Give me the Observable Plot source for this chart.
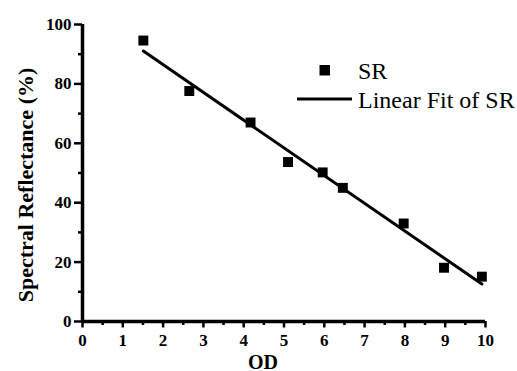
<!DOCTYPE html>
<html>
<head>
<meta charset="utf-8">
<script src="https://cdn.jsdelivr.net/npm/d3@7"></script>
<script src="https://cdn.jsdelivr.net/npm/@observablehq/plot@0.6"></script>
<style>
  html, body { margin: 0; padding: 0; background: #fff; }
  #chart { position: relative; width: 517px; height: 371px; overflow: hidden; }
</style>
</head>
<body>
<div id="chart"></div>
<script>
// Data
const od = [1.51, 2.65, 4.17, 5.10, 5.96, 6.46, 7.97, 8.97, 9.91];
const sr = [94.6, 77.6, 67.0, 53.7, 50.2, 45.0, 33.0, 18.1, 15.1];
const xTicks = [0, 1, 2, 3, 4, 5, 6, 7, 8, 9, 10];
const xMinor = [0.5, 1.5, 2.5, 3.5, 4.5, 5.5, 6.5, 7.5, 8.5, 9.5];
const yTicks = [0, 20, 40, 60, 80, 100];
const yMinor = [10, 30, 50, 70, 90];
const xTitle = "OD";
const yTitle = "Spectral Reflectance (%)";
const legendLabels = ["SR", "Linear Fit of SR"];

const data = od.map((x, i) => ({x, y: sr[i]}));
const serif = "Liberation Serif, Times New Roman, serif";

const plot = Plot.plot({
  width: 517,
  height: 371,
  marginLeft: 82,
  marginRight: 32,
  marginTop: 24,
  marginBottom: 50,
  style: {fontFamily: serif, background: "white", color: "black"},
  x: {domain: [0, 10]},
  y: {domain: [0, 100]},
  marks: [
    Plot.axisX({ticks: xMinor, tickSize: 4, strokeWidth: 2.5, tickFormat: () => "", label: null}),
    Plot.axisY({ticks: yMinor, tickSize: 4, strokeWidth: 2.5, tickFormat: () => "", label: null}),
    Plot.axisX({ticks: xTicks, tickSize: 6.5, tickPadding: 6, strokeWidth: 2.5, fontSize: 17, fontWeight: "bold", label: null, tickFormat: d => String(d)}),
    Plot.axisY({ticks: yTicks, tickSize: 8, tickPadding: 3, strokeWidth: 2.5, fontSize: 17, fontWeight: "bold", label: null, tickFormat: d => String(d)}),
    Plot.ruleX([0], {strokeWidth: 3.5}),
    Plot.ruleY([0], {strokeWidth: 3.5}),
    Plot.linearRegressionY(data, {x: "x", y: "y", ci: 0, stroke: "black", strokeWidth: 3}),
    Plot.dot(data, {x: "x", y: "y", symbol: "square", r: 5.6, fill: "black", stroke: null}),
    Plot.text([yTitle], {frameAnchor: "left", textAnchor: "middle", lineAnchor: "middle", rotate: -90, dx: -57, dy: 12, fontSize: 22, fontWeight: "bold", fill: "black"}),
    Plot.text([xTitle], {frameAnchor: "bottom", textAnchor: "middle", lineAnchor: "bottom", dx: -21, dy: 47, fontSize: 20, fontWeight: "bold", fill: "black"})
  ]
});

document.getElementById("chart").appendChild(plot);

// Legend inside the plot area
const svg = d3.select(plot);
const lg = svg.append("g")
  .style("font-family", serif)
  .style("font-size", "24px")
  .style("font-weight", "normal")
  .attr("text-anchor", "start")
  .attr("fill", "black");
lg.append("rect").attr("x", 319.5).attr("y", 65).attr("width", 10.5).attr("height", 10.5).attr("fill", "black");
lg.append("text").attr("x", 358).attr("y", 79).attr("text-anchor", "start").text(legendLabels[0]);
lg.append("line").attr("x1", 297).attr("x2", 352).attr("y1", 99).attr("y2", 99).attr("stroke", "black").attr("stroke-width", 3);
lg.append("text").attr("x", 358).attr("y", 108).attr("text-anchor", "start").text(legendLabels[1]);
</script>
</body>
</html>
